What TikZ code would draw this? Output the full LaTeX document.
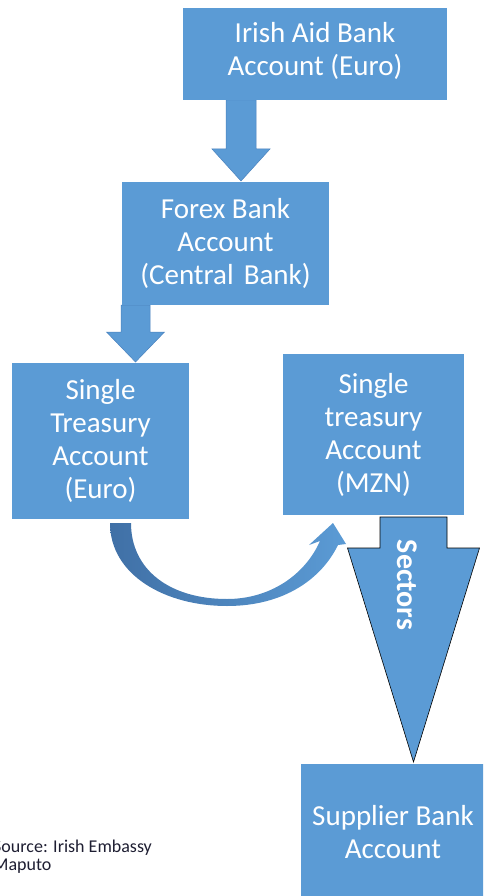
\documentclass[tikz,border=0pt]{standalone}
\usepackage{fontspec}
\setmainfont{Carlito}
\usetikzlibrary{calc,backgrounds}
\definecolor{boxblue}{RGB}{91,155,213}
\definecolor{edgeblue}{RGB}{74,130,190}
\definecolor{darkblue}{RGB}{64,112,166}
\definecolor{srctext}{RGB}{30,30,50}
\begin{document}
\begin{tikzpicture}[x=1pt,y=-1pt,
  acct/.style={rectangle, fill=boxblue, text=white, inner sep=0pt, outer sep=0pt,
    align=center, font=\fontsize{29}{33}\selectfont},
  blockarr/.style={fill=boxblue, draw=edgeblue, line width=0.5pt, line join=miter},
  sectorarr/.style={fill=boxblue, draw=black, line width=0.6pt, line join=miter}]
\useasboundingbox (0,0) rectangle (483,896);
\clip (0,0) rectangle (483,896);

% boxes
\node[acct, minimum width=264pt, minimum height=92pt, text depth=11pt] (irish) at (315,54) {Irish Aid Bank\\Account (Euro)};
\node[acct, minimum width=207pt, minimum height=123pt] (forex) at (225.5,243.5) {Forex Bank\\Account\\(Central\kern0.12em{} Bank)};
\node[acct, minimum width=177pt, minimum height=156pt] (steuro) at (100.5,441) {Single\\Treasury\\Account\\(Euro)};
\node[acct, minimum width=181pt, minimum height=161pt] (stmzn) at (373.5,434.5) {Single\\treasury\\Account\\(MZN)};
\node[acct, minimum width=184pt, minimum height=136pt] (supplier) at (393,832) {Supplier Bank\\Account};

\path (241,0) coordinate (x1) (135.5,0) coordinate (x2) (413.5,0) coordinate (x3);

\begin{scope}[on background layer]
% arrow 1
\coordinate (a1top) at (irish.south -| x1);
\coordinate (a1tip) at ($(forex.north -| x1)+(0,-1)$);
\draw[blockarr] ($(a1top)+(-15,0)$) -- ($(a1tip)+(-15,-32)$) -- ($(a1tip)+(-29,-32)$) -- (a1tip)
  -- ($(a1tip)+(29,-32)$) -- ($(a1tip)+(15,-32)$) -- ($(a1top)+(15,0)$) -- cycle;
% arrow 2
\coordinate (a2top) at (forex.south -| x2);
\coordinate (a2tip) at ($(steuro.north -| x2)+(0,-1)$);
\draw[blockarr] ($(a2top)+(-14.5,0)$) -- ($(a2tip)+(-14.5,-30)$) -- ($(a2tip)+(-29,-30)$) -- (a2tip)
  -- ($(a2tip)+(29,-30)$) -- ($(a2tip)+(14.5,-30)$) -- ($(a2top)+(14.5,0)$) -- cycle;
\end{scope}

% sectors arrow
\coordinate (a3top) at ($(stmzn.south -| x3)+(0,2)$);
\coordinate (a3tip) at ($(supplier.north -| x3)+(0,-2)$);
\draw[sectorarr] ($(a3top)+(-33.5,0)$) -- ($(a3top)+(-33.5,31)$) -- ($(a3top)+(-66,31)$) -- (a3tip)
  -- ($(a3top)+(66,31)$) -- ($(a3top)+(33.5,31)$) -- ($(a3top)+(33.5,0)$) -- cycle;
\node[rotate=-90, text=white, inner sep=0pt, font=\bfseries\fontsize{30}{36}\selectfont] (sectors) at (407,585) {Sectors};

% curved arrow from steuro to stmzn
\coordinate (c1) at (110,523);
\coordinate (c2) at (131,523);
\coordinate (ctip) at (333,523);
\shade[left color=darkblue, right color=boxblue]
  (c1) .. controls (110,575) and (165,606) .. (227,606)
       .. controls (285,606) and (322,578) .. (338,545)
  -- (346,544) -- (ctip) -- (309,545) -- (320,541)
       .. controls (305,575) and (270,599) .. (227,599)
       .. controls (170,599) and (131,570) .. (c2) -- cycle;

% source
\node[anchor=north west, inner sep=0pt, align=left, text=srctext,
  font=\fontsize{18}{18.5}\selectfont] (source) at (-7,839.5) {Source: Irish Embassy\\Maputo};
\end{tikzpicture}
\end{document}
